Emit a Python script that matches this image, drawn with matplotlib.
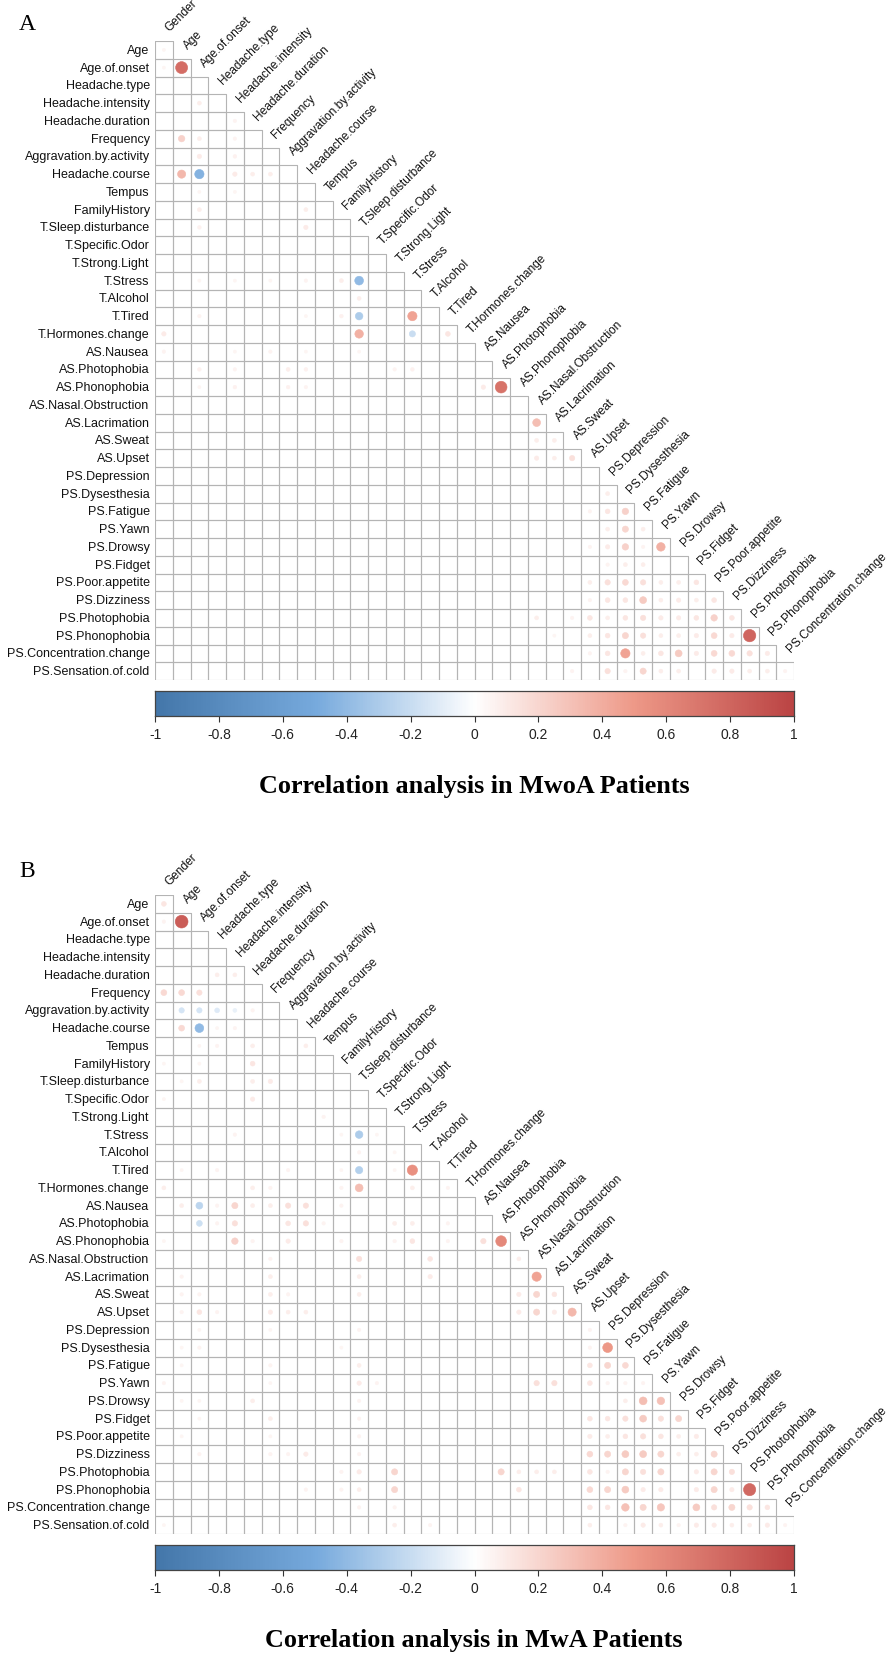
import numpy as np
import matplotlib
matplotlib.use("Agg")
import matplotlib.pyplot as plt
from matplotlib.colors import LinearSegmentedColormap, Normalize
from matplotlib.patches import Rectangle, Circle
from matplotlib.collections import PatchCollection

# variable names (rows use 1..36, columns use 0..35)
VARS = ["Gender", "Age", "Age.of.onset", "Headache.type", "Headache.intensity",
        "Headache.duration", "Frequency", "Aggravation.by.activity", "Headache.course",
        "Tempus", "FamilyHistory", "T.Sleep.disturbance", "T.Specific.Odor",
        "T.Strong.Light", "T.Stress", "T.Alcohol", "T.Tired", "T.Hormones.change",
        "AS.Nausea", "AS.Photophobia", "AS.Phonophobia", "AS.Nasal.Obstruction",
        "AS.Lacrimation", "AS.Sweat", "AS.Upset", "PS.Depression", "PS.Dysesthesia",
        "PS.Fatigue", "PS.Yawn", "PS.Drowsy", "PS.Fidget", "PS.Poor.appetite",
        "PS.Dizziness", "PS.Photophobia", "PS.Phonophobia", "PS.Concentration.change",
        "PS.Sensation.of.cold"]

# MwoA: (row var index, column var index, r) -- cells not listed are ~0
mwoa_cells = [
    (1, 0, 0.05), (2, 0, 0.05), (2, 1, 0.75), (4, 2, 0.08), (5, 4, 0.06),
    (6, 1, 0.22), (6, 2, 0.08), (6, 4, 0.06), (7, 2, 0.10), (7, 4, 0.07),
    (8, 1, 0.35), (8, 2, -0.45), (8, 4, 0.10), (8, 5, 0.08), (8, 6, 0.08),
    (9, 2, 0.05), (9, 4, 0.05), (10, 2, 0.08), (10, 8, 0.08), (11, 2, 0.07), (11, 8, 0.10),
    (14, 2, 0.05), (14, 4, 0.05), (14, 6, 0.05), (14, 8, 0.06), (14, 10, 0.08), (14, 11, -0.40),
    (15, 11, 0.08), (16, 2, 0.06), (16, 8, 0.05), (16, 10, 0.07), (16, 11, -0.30), (16, 14, 0.45),
    (17, 0, 0.10), (17, 11, 0.38), (17, 14, -0.20), (17, 16, 0.12),
    (18, 0, 0.06), (18, 4, 0.05), (18, 6, 0.06), (18, 8, 0.05), (18, 11, 0.05),
    (19, 2, 0.07), (19, 4, 0.06), (19, 7, 0.08), (19, 8, 0.07), (19, 13, 0.06), (19, 14, 0.07),
    (20, 2, 0.05), (20, 4, 0.07), (20, 7, 0.07), (20, 8, 0.06), (20, 18, 0.10), (20, 19, 0.72),
    (22, 21, 0.32), (23, 21, 0.08), (23, 22, 0.08), (24, 21, 0.10), (24, 22, 0.08), (24, 23, 0.15),
    (26, 25, 0.08), (27, 24, 0.06), (27, 25, 0.12), (27, 26, 0.22),
    (28, 25, 0.08), (28, 26, 0.20), (28, 27, 0.08),
    (29, 24, 0.06), (29, 25, 0.10), (29, 26, 0.22), (29, 27, 0.06), (29, 28, 0.38),
    (30, 25, 0.06), (30, 26, 0.08), (30, 27, 0.08),
    (31, 24, 0.08), (31, 25, 0.15), (31, 26, 0.18), (31, 27, 0.15), (31, 28, 0.08),
    (31, 29, 0.08), (31, 30, 0.12),
    (32, 24, 0.06), (32, 25, 0.12), (32, 26, 0.12), (32, 27, 0.25), (32, 28, 0.08),
    (32, 29, 0.10), (32, 30, 0.08), (32, 31, 0.12),
    (33, 21, 0.08), (33, 23, 0.06), (33, 24, 0.12), (33, 25, 0.08), (33, 26, 0.12),
    (33, 27, 0.15), (33, 28, 0.10), (33, 29, 0.10), (33, 30, 0.12), (33, 31, 0.22), (33, 32, 0.12),
    (34, 22, 0.05), (34, 24, 0.08), (34, 25, 0.12), (34, 26, 0.20), (34, 27, 0.15),
    (34, 28, 0.08), (34, 29, 0.08), (34, 30, 0.10), (34, 31, 0.18), (34, 32, 0.10), (34, 33, 0.80),
    (35, 24, 0.06), (35, 25, 0.12), (35, 26, 0.45), (35, 27, 0.08), (35, 28, 0.12),
    (35, 29, 0.25), (35, 30, 0.10), (35, 31, 0.18), (35, 32, 0.18), (35, 33, 0.15), (35, 34, 0.10),
    (36, 23, 0.06), (36, 25, 0.15), (36, 26, 0.06), (36, 27, 0.20), (36, 28, 0.08),
    (36, 29, 0.08), (36, 31, 0.10), (36, 32, 0.10), (36, 33, 0.08), (36, 34, 0.08), (36, 35, 0.06),
]

# MwA
mwa_cells = [
    (1, 0, 0.12), (2, 0, 0.06), (2, 1, 0.85), (5, 3, 0.08), (5, 4, 0.08),
    (6, 0, 0.18), (6, 1, 0.18), (6, 2, 0.15),
    (7, 1, -0.15), (7, 2, -0.15), (7, 3, -0.12), (7, 4, -0.08), (7, 5, 0.06),
    (8, 1, 0.18), (8, 2, -0.40), (8, 3, 0.05), (8, 4, 0.06),
    (9, 2, 0.05), (9, 3, 0.06), (9, 5, 0.08), (9, 8, 0.08),
    (10, 0, 0.05), (10, 2, 0.05), (10, 5, 0.12), (11, 1, 0.05), (11, 2, 0.08), (11, 5, 0.08), (11, 6, 0.10),
    (12, 0, 0.05), (12, 5, 0.10), (13, 9, 0.06),
    (14, 4, 0.06), (14, 10, 0.05), (14, 11, -0.30), (14, 12, 0.05), (15, 11, 0.06), (15, 13, 0.05),
    (16, 1, 0.05), (16, 3, 0.06), (16, 7, 0.06), (16, 10, 0.05), (16, 11, -0.28), (16, 13, 0.05), (16, 14, 0.55),
    (17, 0, 0.08), (17, 5, 0.08), (17, 6, 0.06), (17, 10, 0.06), (17, 11, 0.32), (17, 14, 0.08), (17, 16, 0.06),
    (18, 1, 0.08), (18, 2, -0.25), (18, 3, 0.06), (18, 4, 0.20), (18, 5, 0.08), (18, 6, 0.08),
    (18, 7, 0.15), (18, 8, 0.15), (18, 10, 0.06),
    (19, 2, -0.18), (19, 3, 0.06), (19, 4, 0.15), (19, 7, 0.12), (19, 8, 0.15), (19, 9, 0.06),
    (19, 13, 0.08), (19, 14, 0.08), (19, 16, 0.06),
    (20, 0, 0.05), (20, 4, 0.22), (20, 5, 0.06), (20, 7, 0.10), (20, 10, 0.06), (20, 13, 0.06),
    (20, 14, 0.12), (20, 16, 0.06), (20, 18, 0.15), (20, 19, 0.60),
    (21, 6, 0.06), (21, 11, 0.15), (21, 15, 0.12), (21, 20, 0.08),
    (22, 1, 0.06), (22, 6, 0.08), (22, 11, 0.08), (22, 15, 0.10), (22, 21, 0.45),
    (23, 1, 0.06), (23, 2, 0.06), (23, 6, 0.08), (23, 7, 0.06), (23, 11, 0.08),
    (23, 20, 0.10), (23, 21, 0.20), (23, 22, 0.12),
    (24, 1, 0.06), (24, 2, 0.12), (24, 3, 0.06), (24, 6, 0.10), (24, 7, 0.08), (24, 8, 0.08),
    (24, 20, 0.10), (24, 21, 0.20), (24, 22, 0.10), (24, 23, 0.35),
    (25, 2, 0.05), (25, 6, 0.05), (25, 11, 0.06), (25, 24, 0.06),
    (26, 1, 0.05), (26, 2, 0.06), (26, 10, 0.05), (26, 24, 0.06), (26, 25, 0.50),
    (27, 1, 0.05), (27, 6, 0.06), (27, 11, 0.08), (27, 24, 0.12), (27, 25, 0.20), (27, 26, 0.18),
    (28, 0, 0.06), (28, 6, 0.05), (28, 11, 0.10), (28, 12, 0.06), (28, 21, 0.15), (28, 22, 0.15),
    (28, 24, 0.12), (28, 25, 0.06), (28, 26, 0.06), (28, 27, 0.06),
    (29, 1, 0.05), (29, 2, 0.05), (29, 5, 0.08), (29, 11, 0.06), (29, 26, 0.08), (29, 27, 0.32), (29, 28, 0.30),
    (30, 2, 0.05), (30, 6, 0.08), (30, 11, 0.06), (30, 24, 0.12), (30, 25, 0.12), (30, 26, 0.15),
    (30, 27, 0.25), (30, 28, 0.15), (30, 29, 0.20),
    (31, 1, 0.05), (31, 6, 0.05), (31, 11, 0.06), (31, 24, 0.10), (31, 25, 0.08), (31, 26, 0.12),
    (31, 27, 0.15), (31, 28, 0.12), (31, 29, 0.08), (31, 30, 0.10),
    (32, 2, 0.06), (32, 6, 0.06), (32, 7, 0.06), (32, 8, 0.10), (32, 11, 0.06), (32, 24, 0.18),
    (32, 25, 0.20), (32, 26, 0.25), (32, 27, 0.25), (32, 28, 0.20), (32, 29, 0.08), (32, 30, 0.08), (32, 31, 0.20),
    (33, 10, 0.06), (33, 11, 0.10), (33, 13, 0.20), (33, 19, 0.20), (33, 20, 0.08), (33, 21, 0.08),
    (33, 22, 0.08), (33, 24, 0.12), (33, 25, 0.06), (33, 26, 0.20), (33, 27, 0.15), (33, 28, 0.20),
    (33, 30, 0.10), (33, 31, 0.20), (33, 32, 0.15),
    (34, 8, 0.06), (34, 10, 0.06), (34, 11, 0.08), (34, 13, 0.20), (34, 20, 0.12), (34, 24, 0.18),
    (34, 25, 0.20), (34, 26, 0.25), (34, 27, 0.10), (34, 28, 0.10), (34, 30, 0.10), (34, 31, 0.20),
    (34, 32, 0.10), (34, 33, 0.78),
    (35, 11, 0.06), (35, 13, 0.06), (35, 24, 0.12), (35, 25, 0.12), (35, 26, 0.30), (35, 27, 0.20),
    (35, 28, 0.28), (35, 30, 0.25), (35, 31, 0.15), (35, 32, 0.20), (35, 33, 0.15), (35, 34, 0.12),
    (36, 0, 0.05), (36, 13, 0.08), (36, 15, 0.06), (36, 24, 0.08), (36, 26, 0.06), (36, 27, 0.10),
    (36, 28, 0.08), (36, 29, 0.06), (36, 30, 0.10), (36, 31, 0.10), (36, 32, 0.08), (36, 33, 0.08),
    (36, 34, 0.10), (36, 35, 0.06),
]

cbar_ticks = [-1, -0.8, -0.6, -0.4, -0.2, 0, 0.2, 0.4, 0.6, 0.8, 1]
cbar_labels = ["-1", "-0.8", "-0.6", "-0.4", "-0.2", "0", "0.2", "0.4", "0.6", "0.8", "1"]

W, H = 894, 1656
cmap = LinearSegmentedColormap.from_list(
    "corr", ["#4477AA", "#77AADD", "#FFFFFF", "#EE9988", "#BB4444"])
norm = Normalize(-1, 1)

fig = plt.figure(figsize=(W / 100, H / 100), dpi=100)
fig.patch.set_facecolor("white")


def fx(x):
    return x / W


def fy(y):
    return 1 - y / H


def draw_panel(y0, cells, title, letter, letter_y):
    n = len(VARS) - 1
    gx0, gsize = 155, 639
    ax = fig.add_axes([fx(gx0), fy(y0 + gsize), gsize / W, gsize / H])
    ax.set_xlim(0, n)
    ax.set_ylim(n, 0)
    ax.axis("off")

    # grid of the lower triangle
    rects = [Rectangle((c, r), 1, 1) for r in range(n) for c in range(r + 1)]
    ax.add_collection(PatchCollection(rects, facecolor="none",
                                      edgecolor="#b4b4b4", linewidth=0.8))

    # circles: area follows |r|
    for i, j, v in cells:
        rad = 0.39 * np.sqrt(abs(v))
        col = cmap(norm(v))
        ax.add_patch(Circle((j + 0.5, i - 1 + 0.5), rad, facecolor=col,
                            edgecolor=col, linewidth=0.4))

    # row labels
    for r in range(n):
        ax.text(-0.3, r + 0.5, VARS[r + 1], ha="right", va="center",
                fontsize=9, family="Liberation Sans", color="#111111")
    # column labels
    for c in range(n):
        ax.text(c + 0.95, c - 0.45, VARS[c], ha="left", va="bottom", rotation=45,
                rotation_mode="anchor", fontsize=8.6, family="Liberation Sans",
                color="#111111")

    # colour legend
    cax = fig.add_axes([fx(gx0), fy(y0 + 675), gsize / W, 25 / H])
    grad = np.linspace(-1, 1, 600)[None, :]
    cax.imshow(grad, cmap=cmap, norm=norm, aspect="auto", extent=[-1, 1, 0, 1])
    cax.set_xlim(-1, 1)
    cax.set_yticks([])
    cax.set_xticks(cbar_ticks)
    cax.set_xticklabels(cbar_labels, fontsize=10, family="Liberation Sans", color="#222222")
    cax.tick_params(axis="x", direction="out", length=4, width=0.8, pad=4, color="#333333")
    for s in cax.spines.values():
        s.set_color("#444444")
        s.set_linewidth(0.9)

    fig.text(fx(474), fy(y0 + 745), title, ha="center", va="center", fontsize=18.8,
             fontweight="bold", family="Liberation Serif")
    fig.text(fx(19), fy(letter_y), letter, ha="left", va="center", fontsize=17,
             family="Liberation Serif")


draw_panel(42, mwoa_cells, "Correlation analysis in MwoA Patients", "A", 25)
draw_panel(896, mwa_cells, "Correlation analysis in MwA Patients", "B", 872)

fig.savefig("out.png", dpi=100, facecolor="white")
